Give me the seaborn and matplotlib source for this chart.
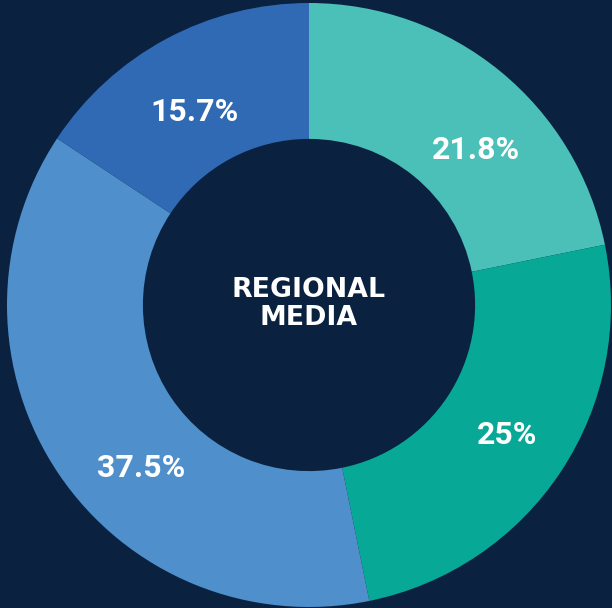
import matplotlib
matplotlib.use("Agg")
import matplotlib.pyplot as plt
import seaborn as sns

# Share of regional media by segment, clockwise from 12 o'clock
labels = ["21.8%", "25%", "37.5%", "15.7%"]
shares = [21.8, 25.0, 37.5, 15.7]
center_title = "REGIONAL\nMEDIA"

palette = sns.color_palette(["#4bc0b8", "#08a896", "#4f8fcb", "#3069b4"])
bg = "#0a2240"

# label anchor points (data units, ring radius = 1)
label_xy = [(0.553, 0.514), (0.657, -0.430), (-0.556, -0.540), (-0.379, 0.640)]

sns.set_theme(style="white")
plt.rcParams["font.family"] = ["Roboto", "DejaVu Sans"]

fig = plt.figure(figsize=(6.12, 6.08), dpi=100, facecolor=bg)
ax = fig.add_axes([0, 0, 1, 1])
ax.set_facecolor(bg)

ax.pie(
    shares,
    colors=palette,
    startangle=90,
    counterclock=False,
    radius=1.0,
    wedgeprops=dict(width=0.45, edgecolor="none", linewidth=0),
)

for txt, (x, y) in zip(labels, label_xy):
    ax.text(x, y, txt, ha="center", va="center", color="white",
            fontsize=23, fontweight="bold")

ax.text(0, 0.003, center_title, ha="center", va="center", color="white",
        fontsize=19.3, fontweight="bold", linespacing=1.08,
        family=["DejaVu Sans"])

# pixel scale: 302 px per unit radius, centre at (309, 305)
s = 302.0
ax.set_xlim(-309 / s, (612 - 309) / s)
ax.set_ylim(-(608 - 305) / s, 305 / s)
ax.set_aspect("equal")
ax.axis("off")

fig.savefig("out.png", dpi=100, facecolor=bg)
